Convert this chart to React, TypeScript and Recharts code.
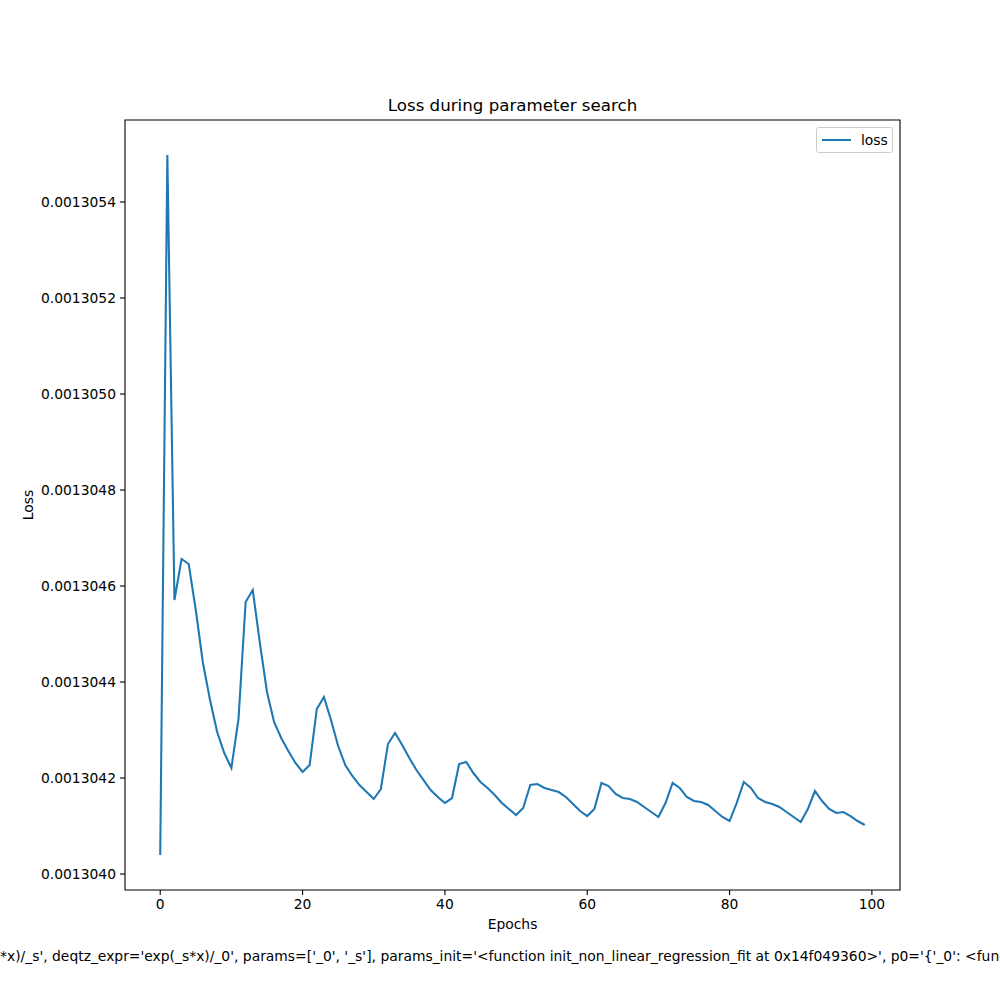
import React from 'react';
import { LineChart, Line, XAxis, YAxis, ReferenceArea, Legend } from 'recharts';

const chartTitle = 'Loss during parameter search';
const xLabel = 'Epochs';
const yLabel = 'Loss';
const seriesName = 'loss';
const footerText =
  "*x)/_s', deqtz_expr='exp(_s*x)/_0', params=['_0', '_s'], params_init='<function init_non_linear_regression_fit at 0x14f049360>', p0='{'_0': <function init_non_linear_regression_fit at 0x14f049360>}'";

const xTicks = [0, 20, 40, 60, 80, 100];
const yTicks = [0.001304, 0.0013042, 0.0013044, 0.0013046, 0.0013048, 0.001305, 0.0013052, 0.0013054];

const lossValues = [
  0.0013040396, 0.0013054979, 0.0013045708, 0.0013046563, 0.0013046458,
  0.00130455, 0.0013044396, 0.0013043625, 0.0013042958, 0.0013042521,
  0.0013042208, 0.0013043229, 0.0013045667, 0.0013045917, 0.0013044813,
  0.0013043792, 0.0013043167, 0.0013042833, 0.0013042563, 0.0013042313,
  0.0013042125, 0.0013042271, 0.0013043438, 0.0013043688, 0.0013043208,
  0.0013042667, 0.0013042271, 0.0013042042, 0.0013041854, 0.0013041708,
  0.0013041563, 0.0013041771, 0.0013042708, 0.0013042938, 0.0013042688,
  0.0013042417, 0.0013042167, 0.0013041958, 0.001304175, 0.0013041604,
  0.0013041479, 0.0013041583, 0.0013042292, 0.0013042333, 0.0013042104,
  0.0013041917, 0.0013041792, 0.0013041646, 0.0013041479, 0.0013041354,
  0.0013041229, 0.0013041375, 0.0013041854, 0.0013041875, 0.0013041792,
  0.001304175, 0.0013041708, 0.0013041604, 0.0013041458, 0.0013041313,
  0.0013041208, 0.0013041354, 0.0013041896, 0.0013041833, 0.0013041667,
  0.0013041583, 0.0013041563, 0.00130415, 0.0013041396, 0.0013041292,
  0.0013041188, 0.0013041479, 0.0013041896, 0.0013041792, 0.0013041604,
  0.0013041521, 0.00130415, 0.0013041438, 0.0013041313, 0.0013041188,
  0.0013041104, 0.0013041479, 0.0013041917, 0.0013041792, 0.0013041583,
  0.00130415, 0.0013041458, 0.0013041396, 0.0013041292, 0.0013041188,
  0.0013041083, 0.0013041354, 0.0013041729, 0.0013041521, 0.0013041354,
  0.0013041271, 0.0013041292, 0.0013041208, 0.0013041104, 0.0013041021,
];

const data = lossValues.map((v, i) => ({ epoch: i, loss: v }));

const xDomain: [number, number] = [-4.95, 103.95];
const yDomain: [number, number] = [0.0013039667, 0.0013055708];

const FONT = '"DejaVu Sans", sans-serif';
const COLOR = '#1f77b4';

const LegendBox = () => (
  <div
    style={{
      width: 77,
      height: 26,
      border: '1px solid #cccccc',
      borderRadius: 3,
      boxSizing: 'border-box',
      background: 'rgba(255,255,255,0.8)',
      display: 'flex',
      alignItems: 'center',
      fontFamily: FONT,
      fontSize: 13.9,
      color: '#000',
    }}
  >
    <svg width={44} height={24} style={{ display: 'block' }}>
      <line x1={5} x2={34} y1={12} y2={12} stroke={COLOR} strokeWidth={2.08} />
    </svg>
    <span style={{ lineHeight: '24px' }}>{seriesName}</span>
  </div>
);

export default function App() {
  return (
    <div style={{ position: 'absolute', left: 0, top: 0, width: 1000, height: 1000, background: '#fff', fontFamily: FONT }}>
      <div
        style={{
          position: 'absolute',
          left: 125,
          width: 775,
          top: 96,
          textAlign: 'center',
          fontSize: 16.67,
          lineHeight: 'normal',
          color: '#000',
          whiteSpace: 'nowrap',
        }}
      >
        {chartTitle}
      </div>
      <LineChart
        width={1000}
        height={1000}
        data={data}
        margin={{ top: 120, right: 100, bottom: 60, left: 0 }}
        style={{ position: 'absolute', left: 0, top: 0 }}
      >
        <XAxis
          dataKey="epoch"
          type="number"
          domain={xDomain}
          allowDataOverflow
          ticks={xTicks}
          interval={0}
          height={50}
          axisLine={false}
          tickSize={5}
          tickMargin={4}
          tickLine={{ stroke: '#000', strokeWidth: 1.1 }}
          tick={{ fill: '#000', fontSize: 13.89, fontFamily: FONT }}
          label={{
            content: (p: any) => {
              const vb = p.viewBox || {};
              return (
                <text
                  x={vb.x + vb.width / 2}
                  y={vb.y + 39}
                  textAnchor="middle"
                  fontSize={13.89}
                  fontFamily={FONT}
                  fill="#000"
                >
                  {xLabel}
                </text>
              );
            },
          }}
        />
        <YAxis
          type="number"
          domain={yDomain}
          allowDataOverflow
          ticks={yTicks}
          interval={0}
          width={125}
          axisLine={false}
          tickSize={5}
          tickMargin={4}
          tickLine={{ stroke: '#000', strokeWidth: 1.1 }}
          tick={{ fill: '#000', fontSize: 13.89, fontFamily: FONT }}
          tickFormatter={(v: number) => v.toFixed(7)}
          label={{
            content: (p: any) => {
              const vb = p.viewBox || {};
              const x = vb.x + 33;
              const y = vb.y + vb.height / 2;
              return (
                <text
                  x={x}
                  y={y}
                  transform={`rotate(-90, ${x}, ${y})`}
                  textAnchor="middle"
                  fontSize={13.89}
                  fontFamily={FONT}
                  fill="#000"
                >
                  {yLabel}
                </text>
              );
            },
          }}
        />
        <ReferenceArea
          x1={xDomain[0]}
          x2={xDomain[1]}
          y1={yDomain[0]}
          y2={yDomain[1]}
          fill="none"
          fillOpacity={0}
          stroke="#000"
          strokeWidth={1.1}
          ifOverflow="extendDomain"
        />
        <Line
          type="linear"
          dataKey="loss"
          name={seriesName}
          stroke={COLOR}
          strokeWidth={2.08}
          dot={false}
          activeDot={false}
          isAnimationActive={false}
        />
        <Legend
          layout="vertical"
          align="center"
          verticalAlign="middle"
          content={() => <LegendBox />}
          wrapperStyle={{ position: 'absolute', left: 816, top: 127, width: 77, height: 26, margin: 0 }}
        />
      </LineChart>
      <div
        style={{
          position: 'absolute',
          left: 0,
          top: 948,
          width: 1000,
          overflow: 'hidden',
          whiteSpace: 'nowrap',
          fontSize: 13.89,
          lineHeight: 'normal',
          color: '#000',
        }}
      >
        {footerText}
      </div>
    </div>
  );
}
